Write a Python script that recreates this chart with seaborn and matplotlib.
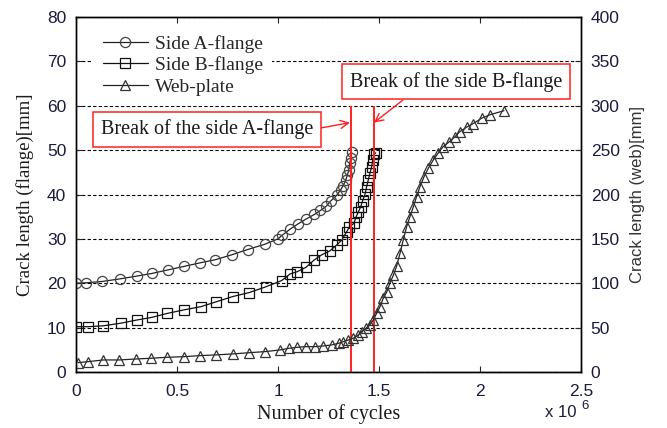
import numpy as np
import pandas as pd
import matplotlib
matplotlib.use("Agg")
import matplotlib.pyplot as plt
import seaborn as sns

# cycles in units of 10^6, crack lengths in mm
cyc_a = [0.0, 0.05, 0.13, 0.22, 0.30, 0.375, 0.455, 0.535, 0.615, 0.69, 0.77, 0.85,
         0.935, 1.0, 1.02, 1.06, 1.10, 1.14, 1.18, 1.21, 1.24, 1.26, 1.29, 1.31, 1.322,
         1.335, 1.343, 1.35, 1.355, 1.36, 1.365]
len_a = [20, 20.1, 20.4, 21, 21.6, 22.2, 23, 23.8, 24.6, 25.3, 26.4, 27.6,
         28.8, 30, 30.8, 32.2, 33.4, 34.5, 35.5, 36.4, 37.4, 38.5, 39.8, 41, 42,
         43.2, 44.3, 45.5, 47, 48.3, 49.5]

cyc_b = [0.0, 0.06, 0.135, 0.223, 0.30, 0.375, 0.452, 0.535, 0.617, 0.693, 0.776, 0.858,
         0.94, 1.018, 1.06, 1.095, 1.139, 1.178, 1.216, 1.257, 1.29, 1.315, 1.34, 1.353,
         1.376, 1.386, 1.398, 1.41, 1.419, 1.431, 1.439, 1.447, 1.455, 1.464, 1.469,
         1.477, 1.484]
len_b = [10.2, 10.2, 10.4, 11, 11.7, 12.3, 13.2, 14, 14.7, 15.8, 17, 17.9,
         19.2, 20.6, 22.1, 22.6, 23.6, 25.2, 26.4, 27.3, 28.6, 29.7, 31.6, 32.7,
         33.5, 34.9, 36.1, 37.3, 38.6, 40.1, 41.8, 43.3, 44.8, 46.3, 47.8,
         49.1, 49.4]

cyc_web = [0.01, 0.06, 0.135, 0.214, 0.297, 0.37, 0.449, 0.535, 0.614, 0.693, 0.776,
           0.858, 0.936, 1.01, 1.056, 1.096, 1.139, 1.183, 1.224, 1.266, 1.3, 1.323,
           1.348, 1.373, 1.398, 1.414, 1.436, 1.455, 1.472, 1.488, 1.505, 1.521, 1.538,
           1.554, 1.571, 1.587, 1.604, 1.62, 1.637, 1.653, 1.67, 1.686, 1.703, 1.723,
           1.744, 1.769, 1.794, 1.818, 1.848, 1.876, 1.901, 1.934, 1.967, 2.008, 2.05,
           2.119]
len_web = [10.5, 11.6, 13.5, 13.5, 14.6, 15.4, 16.5, 17.2, 18.4, 19.2, 20.3,
           21.7, 22.9, 24.8, 26.7, 27.8, 28.5, 28.5, 29.3, 30.4, 32.3, 34.1,
           36, 38, 41.7, 45.4, 49.2, 53, 58.6, 66, 73.6, 83, 90,
           100, 109, 119, 133.7, 148.7, 163.7, 175, 186, 197.5, 209, 220,
           229.5, 239, 247, 254, 259.5, 265, 271, 276, 280, 286, 290,
           294.5]

break_cycles = [1.36, 1.475]
break_top = 60
break_labels = ["Break of the side A-flange", "Break of the side B-flange"]

sns.set_style("ticks")
plt.rcParams["font.family"] = ["Liberation Sans", "DejaVu Sans"]
plt.rcParams["xtick.direction"] = "in"
plt.rcParams["ytick.direction"] = "in"

serif = ["Liberation Serif", "DejaVu Serif"]
tick_col = "#1c1c3c"

fig, ax = plt.subplots(figsize=(6.67, 4.28), dpi=100)
fig.subplots_adjust(left=0.114, right=0.871, top=0.960, bottom=0.131)
ax2 = ax.twinx()

df_a = pd.DataFrame({"cycles": cyc_a, "len": len_a})
df_b = pd.DataFrame({"cycles": cyc_b, "len": len_b})
df_w = pd.DataFrame({"cycles": cyc_web, "len": len_web})

mk = dict(markerfacecolor="none", markersize=7.3, markeredgewidth=0.9, lw=0.9,
          estimator=None)
sns.lineplot(data=df_a, x="cycles", y="len", ax=ax, color="#222222", marker="o",
             markeredgecolor="#444444", label="Side A-flange", **mk)
sns.lineplot(data=df_b, x="cycles", y="len", ax=ax, color="#111111", marker="s",
             markeredgecolor="#111111", label="Side B-flange", **mk)
sns.lineplot(data=df_w, x="cycles", y="len", ax=ax2, color="#222222", marker="^",
             markeredgecolor="#333333", label="Web-plate", legend=False, **mk)

ax.vlines(break_cycles, 0, break_top, color="#ff2020", lw=1.4, zorder=4)

ax.set_xlim(0, 2.5)
ax.set_ylim(0, 80)
ax2.set_ylim(0, 400)
ax.set_xticks([0, 0.5, 1, 1.5, 2, 2.5])
ax.set_xticklabels(["0", "0.5", "1", "1.5", "2", "2.5"])
ax.set_yticks(range(0, 81, 10))
ax2.set_yticks(range(0, 401, 50))
ax.tick_params(axis="x", top=True, length=4, pad=9, labelsize=12.5, labelcolor=tick_col)
ax.tick_params(axis="y", length=4, pad=7, labelsize=12.5, labelcolor=tick_col)
ax2.tick_params(axis="y", length=4, pad=7, labelsize=12.5, labelcolor=tick_col)
ax.yaxis.grid(True, linestyle=(0, (3, 2)), color="black", lw=0.8)
for a in (ax, ax2):
    for s in a.spines.values():
        s.set_color("black")
        s.set_linewidth(1.0)

ax.set_xlabel("Number of cycles", family=serif, fontsize=14.5, color="#1a1a1a", labelpad=3)
ax.set_ylabel("Crack length (flange)[mm]", family=serif, fontsize=13.5, color="#1a1a1a",
              labelpad=9)
ax2.set_ylabel("Crack length (web)[mm]", fontsize=12, color="#333333", labelpad=7)
fig.text(0.817, 0.026, "x 10", fontsize=12, color=tick_col)
fig.text(0.871, 0.045, "6", fontsize=9.5, color=tick_col)

handles = ax.get_lines()[:2] + ax2.get_lines()[:1]
ax.get_legend().remove()
leg = ax.legend(handles, ["Side A-flange", "Side B-flange", "Web-plate"],
                loc="upper left", bbox_to_anchor=(0.034, 0.978), borderaxespad=0,
                prop={"family": serif, "size": 14}, frameon=True, fancybox=False,
                facecolor="white", edgecolor="none", framealpha=1,
                handlelength=2.3, labelspacing=0.2, borderpad=0.5, handletextpad=0.36)
leg.set_zorder(6)

ann_kw = dict(fontsize=14.5, family=serif, color="#1a1a1a", ha="center", va="center",
              bbox=dict(boxstyle="square,pad=0.38", fc="white", ec="#ff2020", lw=1.1),
              zorder=7)
ax.annotate(break_labels[0], xy=(1.356, 56.2), xytext=(0.649, 54.7),
            arrowprops=dict(arrowstyle="->", color="#ff2020", lw=1, relpos=(1, 0.5),
                            shrinkA=0, shrinkB=0), **ann_kw)
ax.annotate(break_labels[1], xy=(1.475, 56.2), xytext=(1.881, 65.4),
            arrowprops=dict(arrowstyle="->", color="#ff2020", lw=1, relpos=(0.3, 0),
                            shrinkA=0, shrinkB=0), **ann_kw)

fig.savefig("out.png", dpi=100)
